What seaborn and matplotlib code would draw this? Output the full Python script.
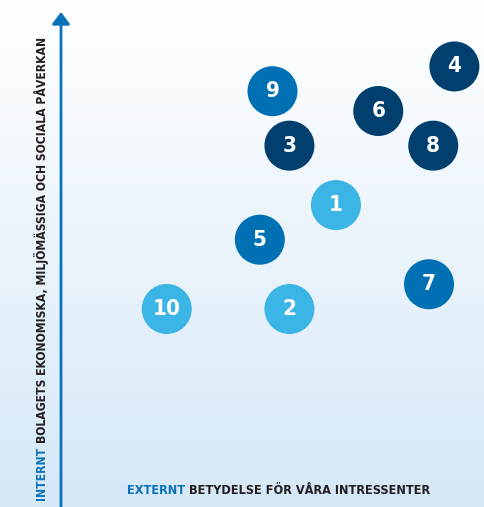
import numpy as np
import pandas as pd
import matplotlib
matplotlib.use('Agg')
import matplotlib.pyplot as plt
from matplotlib.colors import LinearSegmentedColormap
import seaborn as sns

# data (0-100 scale on both axes)
ids = ['1', '2', '3', '4', '5', '6', '7', '8', '9', '10']
extern = [65, 54, 54, 93, 47, 75, 87, 88, 50, 25]
intern = [61, 40, 73, 89, 54, 80, 45, 73, 84, 40]
groups = ['light', 'light', 'dark', 'dark', 'mid', 'dark', 'mid', 'dark', 'mid', 'light']

palette = {'dark': '#003f6e', 'mid': '#0070b5', 'light': '#3bb5e6'}
blue = '#0a72b8'
ink = '#231f20'

df = pd.DataFrame({'id': ids, 'extern': extern, 'intern': intern, 'group': groups})

sns.set_theme(style='white')
plt.rcParams['font.family'] = ['DejaVu Sans']

fig = plt.figure(figsize=(4.84, 5.07), dpi=100)

# background gradient
bg = fig.add_axes([0, 0, 1, 1])
grad = np.linspace(0, 1, 256).reshape(-1, 1)
cmap = LinearSegmentedColormap.from_list('bg', ['#ffffff', '#d5e8f7'])
bg.imshow(grad, aspect='auto', cmap=cmap, extent=[0, 1, 0, 1], origin='upper')
bg.axis('off')

ax = fig.add_axes([61 / 484, 0, 1 - 61 / 484, (507 - 12) / 507])
ax.patch.set_alpha(0)
sns.scatterplot(data=df, x='extern', y='intern', hue='group', palette=palette,
                s=1296, linewidth=0, legend=False, ax=ax, clip_on=False)
for _, r in df.iterrows():
    ax.text(r['extern'], r['intern'], r['id'], color='white', fontsize=16,
            fontweight='bold', fontstretch='condensed', ha='center', va='center')
ax.set_xlim(0, 100)
ax.set_ylim(0, 100)
ax.set_xticks([])
ax.set_yticks([])
ax.set_xlabel('')
ax.set_ylabel('')
sns.despine(ax=ax, left=True, bottom=True)

ax.annotate('', xy=(0, 1), xytext=(0, -0.02), xycoords='axes fraction',
            arrowprops=dict(arrowstyle='-|>,head_length=0.6,head_width=0.45',
                            color=blue, lw=2, shrinkA=0, shrinkB=0))

# axis titles, two colours each
kw = dict(fontweight='bold', fontstretch='condensed')
renderer = fig.canvas.get_renderer()

t = fig.text(127 / 484, 17 / 507, 'EXTERNT', color=blue, ha='left', va='center',
             fontsize=9.1, **kw)
e = t.get_window_extent(renderer)
fig.text((e.x1 + 4) / 484, 17 / 507, 'BETYDELSE FÖR VÅRA INTRESSENTER',
         color=ink, ha='left', va='center', fontsize=9.1, **kw)

t = fig.text(42 / 484, 7 / 507, 'INTERNT', color=blue, rotation=90,
             ha='center', va='bottom', fontsize=8.75, **kw)
e = t.get_window_extent(renderer)
fig.text(42 / 484, (e.y1 + 4) / 507, 'BOLAGETS EKONOMISKA, MILJÖMÄSSIGA OCH SOCIALA PÅVERKAN',
         color=ink, rotation=90, ha='center', va='bottom', fontsize=8.75, **kw)

fig.savefig('out.png', dpi=100)
